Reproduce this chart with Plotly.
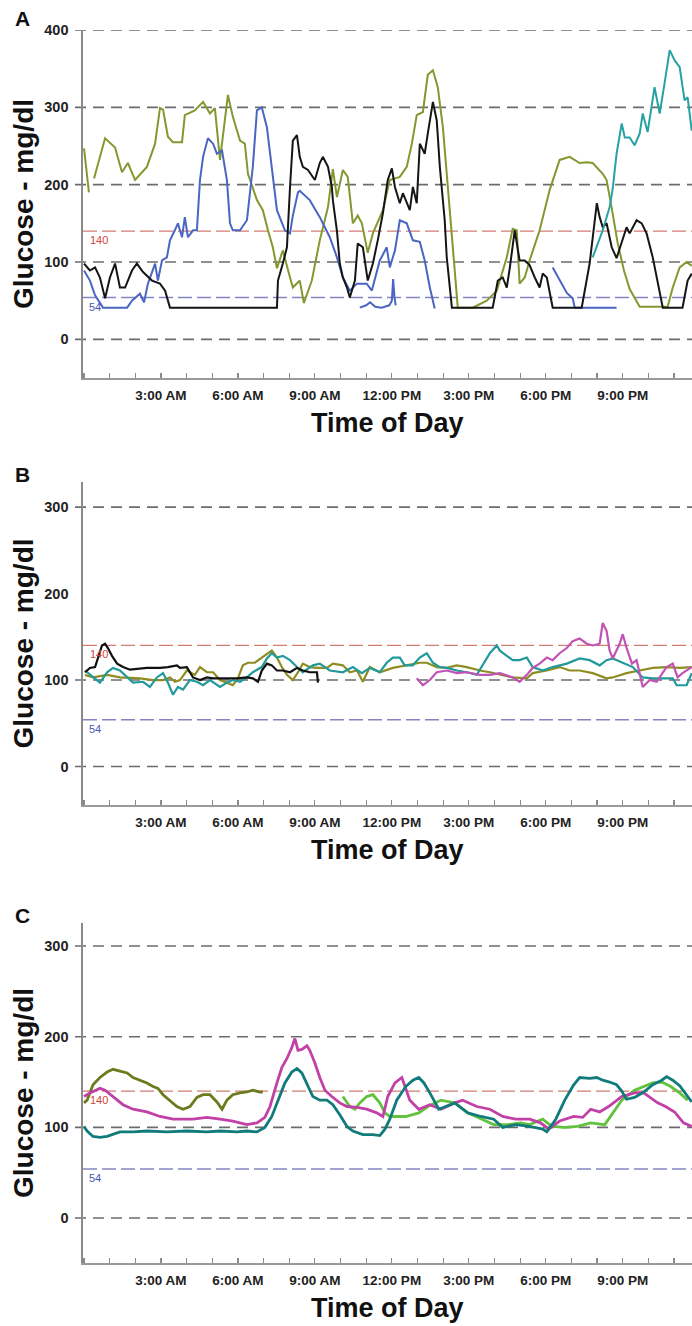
import plotly.graph_objects as go

W, H = 692, 1326

# ---------------- axis ticks / reference values ----------------
TICK_HOURS = [3, 6, 9, 12, 15, 18, 21]
TICK_LABELS = ["3:00 AM", "6:00 AM", "9:00 AM", "12:00 PM", "3:00 PM", "6:00 PM", "9:00 PM"]
TARGET_HIGH = 140
TARGET_LOW = 54
A_Y_TICKS = [0, 100, 200, 300, 400]
B_Y_TICKS = [0, 100, 200, 300]
C_Y_TICKS = [0, 100, 200, 300]
A_GRID = [0, 100, 200, 300, 400]
B_GRID = [0, 100, 300]
C_GRID = [0, 100, 200, 300]

# ---------------- Panel A data: (hour of day, glucose mg/dl) ----------------
A_OLIVE = [(0.00,247),(0.19,190),(0.30,None),(0.39,208),(0.82,260),(1.21,248),(1.48,216),(1.71,228),(1.99,206),
           (2.45,223),(2.77,253),(2.96,299),(3.08,297),(3.27,262),(3.47,255),(3.82,255),(3.93,290),(4.32,296),
           (4.64,307),(4.91,292),(5.10,299),(5.30,232),(5.61,316),(5.80,288),(6.08,257),(6.27,253),(6.39,214),
           (6.74,180),(6.97,167),(7.17,141),(7.36,119),(7.52,92),(7.75,115),(8.03,80),(8.14,67),(8.41,76),
           (8.57,47),(8.88,76),(9.19,128),(9.51,171),(9.70,220),(9.86,184),(10.09,219),(10.28,210),(10.48,150),
           (10.67,160),(10.83,150),(11.06,112),(11.26,137),(11.65,167),(11.92,206),(12.31,210),(12.58,223),
           (12.78,253),(12.97,290),(13.21,294),(13.40,342),(13.60,348),(13.79,326),(13.99,274),(14.18,197),
           (14.37,120),(14.57,41),(15.15,41),(15.70,50),(16.09,63),(16.48,106),(16.71,143),(16.87,141),
           (16.98,72),(17.18,80),(17.37,102),(17.76,141),(18.15,193),(18.54,232),(18.93,236),(19.32,228),
           (19.60,229),(19.83,228),(20.22,214),(20.37,206),(20.57,170),(20.80,125),(21.04,90),(21.27,65),
           (21.66,42),(22.75,42),(22.95,67),(23.22,93),(23.49,100),(23.69,95)]
A_BLUE = [(0.00,89),(0.23,76),(0.43,57),(0.74,41),(1.68,41),(1.87,50),(2.18,59),(2.34,48),(2.49,72),(2.77,98),
          (2.88,76),(3.04,102),(3.23,106),(3.35,128),(3.54,141),(3.66,150),(3.82,132),(3.93,158),(4.05,132),
          (4.25,141),(4.40,141),(4.52,206),(4.64,236),(4.83,260),(5.03,253),(5.18,240),(5.38,244),(5.57,206),
          (5.69,150),(5.80,141),(6.08,141),(6.35,154),(6.47,190),(6.58,223),(6.74,296),(6.93,300),(7.13,274),
          (7.32,223),(7.52,167),(7.83,141),(8.03,137),(8.14,160),(8.34,190),(8.41,192),(8.80,180),(9.19,158),
          (9.58,132),(9.86,106),(10.09,80),(10.36,63),(10.64,72),(11.02,72),(11.22,63),(11.53,102),(11.80,119),
          (11.92,93),(12.12,115),(12.31,154),(12.58,150),(12.82,128),(13.09,126),(13.28,102),(13.48,67),(13.67,40)]
A_BLUE_2 = [(10.75,41),(11.00,44),(11.15,48),(11.35,42),(11.60,41),(11.90,44),(12.00,50),(12.05,78),(12.10,55),(12.15,44)]
A_BLUE_3 = [(18.27,93),(18.54,76),(18.82,60),(19.05,53),(19.13,41),(20.76,41)]
A_BLACK = [(0.00,98),(0.23,89),(0.43,93),(0.62,80),(0.82,53),(1.01,80),(1.21,98),(1.40,67),(1.60,67),(1.87,89),
           (2.06,98),(2.30,87),(2.65,76),(2.96,72),(3.16,63),(3.35,41),(7.52,41),(7.56,76),(7.75,98),(7.91,119),
           (8.03,197),(8.14,257),(8.30,264),(8.41,236),(8.53,223),(8.73,219),(9.00,206),(9.19,228),(9.31,236),
           (9.51,223),(9.66,197),(9.70,180),(9.86,140),(9.97,98),(10.09,80),(10.25,67),(10.36,54),(10.56,76),
           (10.67,124),(10.87,119),(11.06,76),(11.26,98),(11.45,128),(11.65,163),(11.84,206),(12.00,221),
           (12.12,197),(12.31,176),(12.43,189),(12.70,167),(12.82,197),(12.97,176),(13.09,253),(13.28,240),
           (13.40,266),(13.60,307),(13.75,283),(13.87,223),(14.06,154),(14.14,106),(14.34,41),(15.93,41),
           (16.13,76),(16.32,80),(16.48,67),(16.60,93),(16.79,141),(16.98,102),(17.18,102),(17.37,96),(17.57,80),
           (17.76,67),(17.88,85),(18.04,80),(18.27,41),(19.40,41),(19.71,98),(19.99,176),(20.10,158),(20.22,145),
           (20.37,150),(20.57,119),(20.76,105),(21.00,128),(21.15,145),(21.27,137),(21.54,154),(21.74,150),
           (21.93,137),(22.17,106),(22.36,76),(22.56,41),(23.33,41),(23.53,76),(23.69,85)]
A_TEAL = [(19.83,106),(20.22,141),(20.49,171),(20.61,195),(20.76,240),(20.96,279),(21.08,261),(21.27,261),
          (21.46,251),(21.66,266),(21.78,292),(21.97,268),(22.24,326),(22.44,292),(22.63,331),(22.83,374),
          (23.02,361),(23.22,352),(23.41,309),(23.53,313),(23.69,270)]

# ---------------- Panel B data ----------------
B_OLIVE = [(0.04,106),(0.35,103),(0.90,106),(1.40,103),(2.18,102),(2.69,100),(3.08,100),(3.35,103),(3.55,98),
           (3.74,100),(4.01,111),(4.32,106),(4.52,115),(4.79,109),(5.03,109),(5.30,100),(5.57,97),(5.80,94),
           (6.00,102),(6.19,117),(6.39,120),(6.66,120),(6.93,126),(7.17,131),(7.32,134),(7.52,126),(7.71,115),
           (7.91,106),(8.14,100),(8.34,109),(8.53,119),(8.80,115),(9.08,114),(9.47,114),(9.70,119),(10.09,117),
           (10.36,109),(10.64,111),(10.87,98),(11.14,115),(11.53,109),(12.04,114),(12.58,117),(13.09,120),
           (13.36,120),(13.75,115),(14.14,114),(14.53,117),(14.92,115),(15.43,111),(15.82,109),(16.21,106),
           (16.71,103),(17.26,102),(17.49,108),(18.04,111),(18.54,115),(18.93,111),(19.32,111),(19.83,108),
           (20.37,102),(20.61,103),(21.15,108),(21.66,111),(22.17,114),(22.71,115),(23.22,114),(23.69,115)]
B_TEAL = [(0.04,111),(0.35,103),(0.62,97),(0.90,109),(1.13,114),(1.40,111),(1.68,103),(1.91,97),(2.30,98),
          (2.57,92),(2.84,103),(3.08,108),(3.27,97),(3.47,83),(3.66,92),(3.86,89),(4.13,100),(4.40,98),(4.64,94),
          (4.91,100),(5.30,92),(5.57,97),(5.80,100),(6.08,98),(6.35,103),(6.58,109),(6.93,115),(7.13,125),
          (7.32,131),(7.52,126),(7.75,128),(8.03,123),(8.30,115),(8.53,109),(8.92,117),(9.19,119),(9.58,111),
          (10.09,109),(10.48,115),(10.83,108),(11.14,114),(11.53,109),(11.80,120),(12.04,126),(12.31,126),
          (12.50,117),(12.82,117),(13.09,126),(13.36,131),(13.60,120),(13.87,115),(14.14,114),(14.53,111),
          (14.92,109),(15.31,106),(15.54,117),(15.82,131),(16.09,140),(16.21,134),(16.48,128),(16.71,123),
          (16.98,123),(17.26,126),(17.49,115),(17.88,111),(18.27,115),(18.82,119),(19.32,125),(19.71,123),
          (20.10,117),(20.37,123),(20.61,125),(21.00,120),(21.39,115),(21.78,103),(22.17,102),(22.56,102),
          (22.95,102),(23.10,94),(23.49,94),(23.69,108)]
B_BLACK = [(0.04,109),(0.23,114),(0.43,115),(0.55,125),(0.70,140),(0.82,142),(0.93,137),(1.09,128),(1.29,119),
           (1.52,115),(1.79,112),(2.45,114),(2.96,114),(3.27,115),(3.62,117),(3.74,114),(4.01,115),(4.25,103),
           (4.52,100),(4.79,103),(5.03,102),(5.41,102),(5.96,102),(6.35,103),(6.58,102),(6.78,98),(6.93,111),
           (7.13,119),(7.32,117),(7.52,111),(7.75,111),(8.03,109),(8.30,114),(8.53,111),(8.80,109),(9.08,109),
           (9.12,97)]
B_MAGENTA = [(12.97,102),(13.21,94),(13.48,100),(13.75,109),(14.14,111),(14.53,108),(14.92,109),(15.43,106),
             (15.82,106),(16.21,108),(16.71,103),(16.98,98),(17.26,106),(17.49,114),(17.76,119),(18.04,126),
             (18.27,123),(18.54,131),(18.82,137),(19.05,145),(19.32,148),(19.60,142),(19.83,140),(20.10,142),
             (20.22,166),(20.37,157),(20.49,134),(20.61,125),(20.88,142),(21.00,153),(21.15,137),(21.36,119),
             (21.54,123),(21.78,92),(22.05,100),(22.32,98),(22.71,115),(22.95,119),(23.14,103),(23.33,108),
             (23.69,115)]

# ---------------- Panel C data ----------------
C_OLIVE = [(0.00,127),(0.12,130),(0.35,147),(0.62,155),(0.90,161),(1.13,164),(1.40,162),(1.68,160),(1.91,155),
           (2.18,152),(2.45,149),(2.69,145),(2.88,143),(3.08,136),(3.35,130),(3.62,123),(3.86,120),(4.13,123),
           (4.40,133),(4.64,136),(4.91,136),(5.18,128),(5.38,120),(5.57,130),(5.80,136),(6.08,138),(6.35,139),
           (6.58,141),(6.86,139),(6.97,139)]
C_GREEN = [(10.09,134),(10.36,123),(10.56,120),(10.75,127),(11.02,134),(11.26,136),(11.53,127),(11.73,116),
           (11.92,112),(12.19,112),(12.54,112),(13.05,116),(13.40,123),(13.91,130),(14.45,127),(14.96,116),
           (15.47,109),(15.97,103),(16.52,103),(17.02,105),(17.37,103),(17.88,109),(18.23,101),(18.74,100),
           (19.24,101),(19.75,105),(20.30,103),(20.61,116),(20.96,130),(21.46,141),(21.82,145),(22.17,149),
           (22.52,150),(22.87,145),(23.22,138),(23.53,130)]
C_MAGENTA = [(0.00,134),(0.23,138),(0.62,143),(0.82,141),(1.13,134),(1.52,125),(1.91,120),(2.45,117),(2.96,112),
             (3.47,109),(4.25,109),(4.79,111),(5.30,109),(5.80,107),(6.35,103),(6.74,105),(7.05,111),(7.25,123),
             (7.52,149),(7.71,166),(7.91,176),(8.10,188),(8.22,198),(8.34,185),(8.49,186),(8.69,190),(8.80,185),
             (9.00,171),(9.19,155),(9.39,141),(9.66,134),(9.97,127),(10.25,123),(10.64,122),(11.02,120),
             (11.41,116),(11.65,112),(11.84,134),(12.12,149),(12.39,155),(12.70,130),(13.05,120),(13.48,125),
             (13.91,120),(14.45,127),(14.76,130),(15.31,123),(15.82,120),(16.32,112),(16.83,109),(17.37,109),
             (17.80,105),(18.11,98),(18.54,107),(19.09,112),(19.44,111),(19.75,120),(20.10,117),(20.45,123),
             (20.96,134),(21.46,138),(21.82,138),(22.36,127),(22.67,123),(23.02,117),(23.37,105),(23.69,101)]
C_TEAL = [(0.00,101),(0.12,96),(0.35,90),(0.62,89),(0.90,90),(1.40,95),(1.91,95),(2.45,96),(3.23,95),(4.01,96),
          (4.79,95),(5.30,96),(5.96,95),(6.35,96),(6.74,95),(7.05,100),(7.32,112),(7.56,130),(7.83,149),
          (8.10,161),(8.30,165),(8.49,160),(8.73,145),(8.92,134),(9.19,130),(9.47,130),(9.70,125),(9.97,114),
          (10.25,101),(10.48,96),(10.87,92),(11.26,92),(11.53,91),(11.73,98),(11.92,109),(12.19,130),(12.54,145),
          (12.82,152),(13.05,155),(13.25,149),(13.48,138),(13.83,120),(14.10,123),(14.45,127),(14.96,116),
          (15.47,112),(15.97,109),(16.32,100),(16.83,103),(17.37,101),(17.88,98),(18.04,95),(18.39,109),
          (18.74,130),(19.09,147),(19.32,155),(19.71,154),(19.99,155),(20.22,152),(20.49,150),(20.76,147),
          (20.96,140),(21.15,131),(21.46,133),(21.82,139),(22.17,147),(22.52,152),(22.71,156),(22.95,152),
          (23.22,146),(23.69,128)]

# ---------------- layout geometry ----------------
FONT = "Liberation Sans, Arial, Helvetica, sans-serif"
X0_PX = 83
STUB = -8 / (W - X0_PX)

panels = [
    dict(letter="A", top=30, bottom=378, yrange=[-50, 400], yticks=A_Y_TICKS, grid=A_GRID, lw=2.0, letter_y=19,
         series=[(A_OLIVE, "#82992f"), (A_BLUE, "#4a66c2"), (A_BLUE_2, "#4a66c2"), (A_BLUE_3, "#4a66c2"),
                 (A_BLACK, "#151515"), (A_TEAL, "#27a2a4")]),
    dict(letter="B", top=482, bottom=805, yrange=[-44.5, 329], yticks=B_Y_TICKS, grid=B_GRID, lw=2.2, letter_y=474,
         series=[(B_OLIVE, "#8f8d22"), (B_TEAL, "#22999b"), (B_BLACK, "#111111"), (B_MAGENTA, "#c153b4")]),
    dict(letter="C", top=923, bottom=1263, yrange=[-49.6, 325.4], yticks=C_Y_TICKS, grid=C_GRID, lw=2.8, letter_y=915,
         series=[(C_OLIVE, "#6d7b1f"), (C_GREEN, "#62c23e"), (C_MAGENTA, "#c241a6"), (C_TEAL, "#117b7c")]),
]

fig = go.Figure()
shapes = []
annotations = []
layout = {}

for i, p in enumerate(panels):
    n = "" if i == 0 else str(i + 1)
    xa, ya = "x" + n, "y" + n
    dom_y = [1 - p["bottom"] / H, 1 - p["top"] / H]
    for data, color in p["series"]:
        fig.add_trace(go.Scatter(
            x=[d[0] for d in data], y=[d[1] for d in data], mode="lines",
            line=dict(color=color, width=p["lw"]), xaxis=xa, yaxis=ya,
            connectgaps=False, hoverinfo="skip"))

    layout["xaxis" + n] = dict(
        domain=[X0_PX / W, 1], range=[-0.04, 23.7], anchor=ya, automargin=False,
        tickvals=TICK_HOURS, ticktext=TICK_LABELS,
        ticks="inside", ticklen=5, tickwidth=1.2, tickcolor="#8a8a8a",
        minor=dict(dtick=1, tick0=0, ticks="inside", ticklen=5, tickwidth=1.2, tickcolor="#8a8a8a", showgrid=False),
        showline=True, linecolor="#9a9a9a", linewidth=1.6,
        showgrid=False, zeroline=False, fixedrange=True,
        tickfont=dict(family=FONT, size=13.5, color="#222222", weight="bold"),
        ticklabelstandoff=4)
    layout["yaxis" + n] = dict(
        domain=dom_y, range=p["yrange"], anchor=xa, automargin=False,
        tickvals=p["yticks"], ticks="outside", ticklen=8, tickcolor="rgba(0,0,0,0)",
        showline=True, linecolor="#8a8a8a", linewidth=1.6,
        showgrid=False, zeroline=False, fixedrange=True,
        tickfont=dict(family=FONT, size=14.5, color="#222222", weight="bold"),
        ticklabelstandoff=2)

    for g in p["grid"]:
        shapes.append(dict(type="line", xref=xa + " domain", yref=ya, x0=STUB, x1=1, y0=g, y1=g,
                           line=dict(color="#6c6c6c", width=1.6, dash="11px,7px"), layer="below"))
    shapes.append(dict(type="line", xref=xa + " domain", yref=ya, x0=0, x1=1, y0=TARGET_HIGH, y1=TARGET_HIGH,
                       line=dict(color="#d27d74", width=1.2, dash="14px,5px"), layer="below"))
    shapes.append(dict(type="line", xref=xa + " domain", yref=ya, x0=0, x1=1, y0=TARGET_LOW, y1=TARGET_LOW,
                       line=dict(color="#8585c2", width=1.4, dash="14px,5px"), layer="below"))

    annotations.append(dict(xref=xa + " domain", yref=ya, x=0.008, y=TARGET_HIGH, xanchor="left", yanchor="top",
                            yshift=-1, text=str(TARGET_HIGH), showarrow=False,
                            font=dict(family=FONT, size=11, color="#d0453a")))
    annotations.append(dict(xref=xa + " domain", yref=ya, x=0.006, y=TARGET_LOW, xanchor="left", yanchor="top",
                            yshift=-1, text=str(TARGET_LOW), showarrow=False,
                            font=dict(family=FONT, size=11, color="#4456b0")))
    # panel letter
    annotations.append(dict(xref="paper", yref="paper", x=22 / W, y=1 - p["letter_y"] / H, xanchor="center",
                            yanchor="middle", text="<b>%s</b>" % p["letter"], showarrow=False,
                            font=dict(family=FONT, size=21, color="#111111")))
    # y title
    annotations.append(dict(xref="paper", yref="paper", x=23 / W, y=1 - (p["top"] + p["bottom"]) / 2 / H,
                            xanchor="center", yanchor="middle", textangle=-90,
                            text="<b>Glucose - mg/dl</b>", showarrow=False,
                            font=dict(family=FONT, size=28, color="#111111")))
    # x title
    annotations.append(dict(xref="paper", yref="paper", x=387 / W, y=1 - (p["bottom"] + 45) / H,
                            xanchor="center", yanchor="middle", text="<b>Time of Day</b>", showarrow=False,
                            font=dict(family=FONT, size=27, color="#111111")))

fig.update_layout(
    width=W, height=H, margin=dict(l=0, r=0, t=0, b=0, pad=0, autoexpand=False),
    paper_bgcolor="white", plot_bgcolor="white", showlegend=False,
    shapes=shapes, annotations=annotations, **layout)

fig.write_html("out.html", config={"displayModeBar": False, "staticPlot": True},
               post_script="document.body.style.margin='0';document.body.style.padding='0';"
                           "document.body.style.overflow='hidden';")
